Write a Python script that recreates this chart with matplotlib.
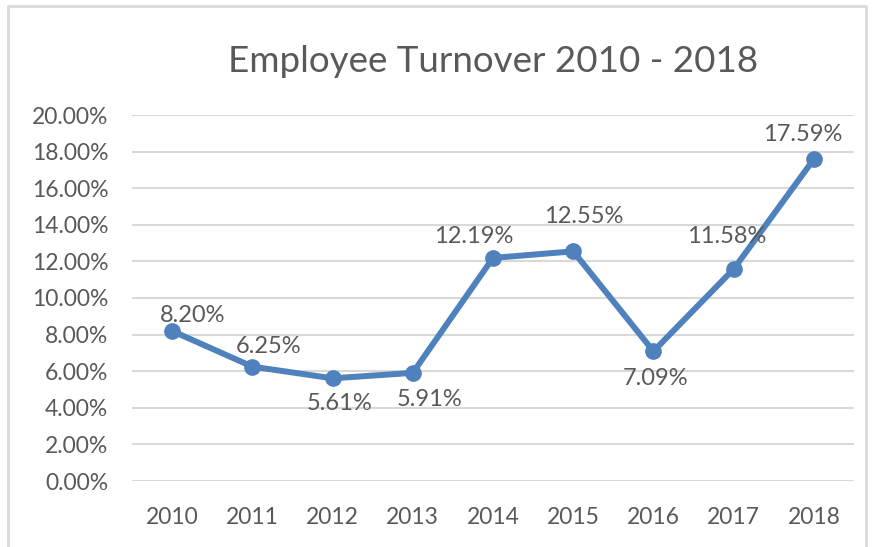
import matplotlib.pyplot as plt
from matplotlib.lines import Line2D
from matplotlib.ticker import FuncFormatter

years = ['2010', '2011', '2012', '2013', '2014', '2015', '2016', '2017', '2018']
turnover = [8.20, 6.25, 5.61, 5.91, 12.19, 12.55, 7.09, 11.58, 17.59]
labels = ['8.20%', '6.25%', '5.61%', '5.91%', '12.19%', '12.55%', '7.09%', '11.58%', '17.59%']
# label offsets from the point, in pixels
label_offsets = [(21, 15), (16, 20), (7, -25), (17, -27), (-19, 21),
                 (10, 35), (2, -27), (-7, 33), (-11, 25)]

text_color = '#595959'
line_color = '#4F81BD'
grid_color = '#D9D9D9'

plt.rcParams['font.family'] = ['Lato', 'DejaVu Sans']

fig = plt.figure(figsize=(8.74, 5.47), dpi=100)
ax = fig.add_axes([132 / 874, 1 - 481 / 547, 722 / 874, 366 / 547])

x = list(range(len(years)))
ax.plot(x, turnover, color=line_color, linewidth=4.3, marker='o',
        markersize=11, solid_capstyle='round', zorder=3)

for xi, yi, lab, off in zip(x, turnover, labels, label_offsets):
    ax.annotate(lab, (xi, yi), xytext=off, textcoords='offset pixels',
                ha='center', va='center', fontsize=17, color=text_color)

ax.set_xlim(-0.5, len(years) - 0.5)
ax.set_ylim(0, 20)
ax.set_yticks(range(0, 21, 2))
ax.yaxis.set_major_formatter(FuncFormatter(lambda v, p: f'{v:.2f}%'))
ax.set_xticks(x)
ax.set_xticklabels(years)
ax.tick_params(axis='both', length=0, labelsize=16.5, labelcolor=text_color)
ax.tick_params(axis='y', pad=17)
ax.tick_params(axis='x', pad=19)
ax.grid(axis='y', color=grid_color, linewidth=1.5)
ax.set_axisbelow(True)
for s in ax.spines.values():
    s.set_visible(False)

fig.text(493 / 874, 1 - 62 / 547, 'Employee Turnover 2010 - 2018',
         ha='center', va='center', fontsize=26.5, color=text_color)

# chart frame
fx = [8 / 874, 8 / 874, 866 / 874, 866 / 874]
fy = [0, 1 - 6 / 547, 1 - 6 / 547, 0]
fig.add_artist(Line2D(fx, fy, color=grid_color, linewidth=2, transform=fig.transFigure))

fig.savefig('out.png', dpi=100)
